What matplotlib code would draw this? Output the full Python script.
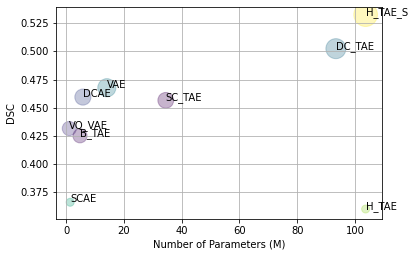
import matplotlib
matplotlib.use("Agg")
import matplotlib.pyplot as plt

models = ["H_TAE_S", "DC_TAE", "VAE", "DCAE", "SC_TAE", "VQ_VAE", "B_TAE", "SCAE", "H_TAE"]
params = [103.7, 93.4, 14.1, 5.8, 34.5, 1.1, 4.8, 1.4, 103.7]
dsc = [0.5326, 0.5024, 0.4677, 0.4594, 0.4565, 0.4315, 0.4250, 0.3660, 0.3600]
sizes = [560, 400, 330, 260, 250, 200, 200, 64, 64]
color_vals = [1.0, 0.38, 0.42, 0.22, 0.02, 0.15, 0.05, 0.6, 0.85]

fig = plt.figure(figsize=(415 / 72, 259 / 72), dpi=72)
ax = fig.add_axes([0.135, 0.156, 0.785, 0.817])
ax.scatter(params, dsc, s=sizes, c=color_vals, cmap="viridis", vmin=0, vmax=1, alpha=0.3)
for m, x, y in zip(models, params, dsc):
    ax.text(x, y, m, fontsize=10)
ax.set_xlim(-3.5, 109.3)
ax.set_ylim(0.3515, 0.5394)
ax.set_xticks([0, 20, 40, 60, 80, 100])
ax.set_yticks([0.375, 0.400, 0.425, 0.450, 0.475, 0.500, 0.525])
ax.set_xlabel("Number of Parameters (M)", fontsize=10)
ax.set_ylabel("DSC", fontsize=10)
ax.grid(True, color="#b0b0b0", linewidth=0.8)
fig.savefig("out.png", dpi=72)
